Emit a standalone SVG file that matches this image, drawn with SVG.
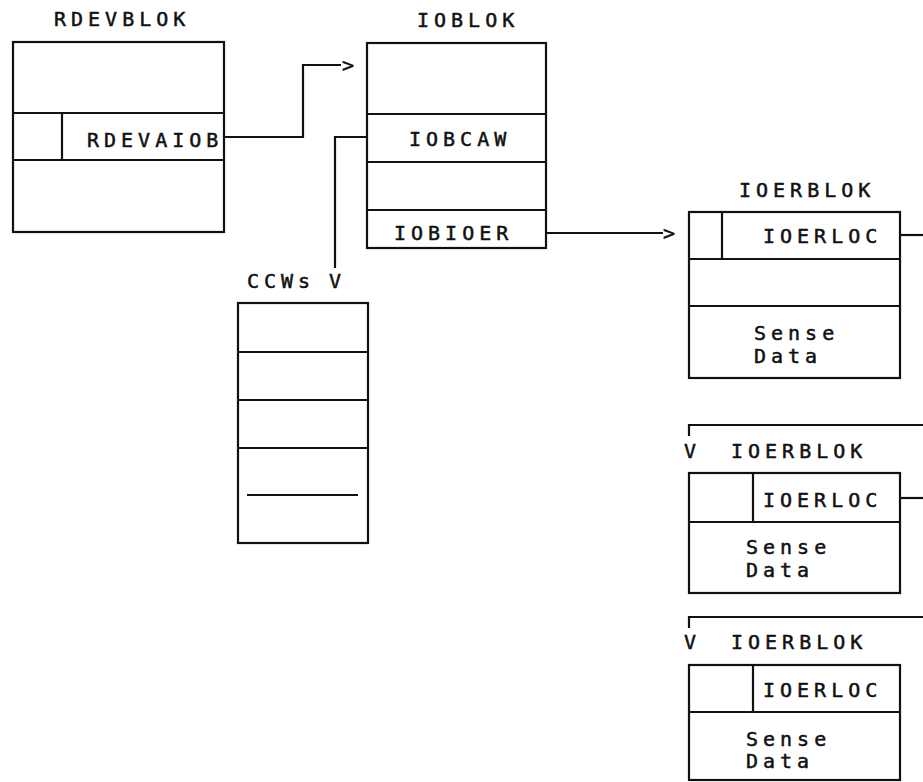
<svg xmlns="http://www.w3.org/2000/svg" width="923" height="782" viewBox="0 0 923 782">
<style>
.b{fill:none;stroke:#111;stroke-width:2.2}
.l{fill:none;stroke:#111;stroke-width:2.2}
text{font-family:"DejaVu Sans Mono","Liberation Mono",monospace;font-size:20px;letter-spacing:5px;fill:#111;stroke:#111;stroke-width:0.5px}
</style>
<rect width="923" height="782" fill="#fff"/>
<g id="rdevblok">
<text x="54" y="26">RDEVBLOK</text>
<rect class="b" x="13" y="42" width="211" height="190"/>
<line class="b" x1="13" y1="113" x2="224" y2="113"/>
<line class="b" x1="13" y1="160" x2="224" y2="160"/>
<line class="b" x1="62" y1="113" x2="62" y2="160"/>
<text x="87" y="147">RDEVAIOB</text>
</g>
<g id="ioblok">
<text x="417" y="27">IOBLOK</text>
<rect class="b" x="367" y="43" width="179" height="205"/>
<line class="b" x1="367" y1="114" x2="546" y2="114"/>
<line class="b" x1="367" y1="162" x2="546" y2="162"/>
<line class="b" x1="367" y1="210" x2="546" y2="210"/>
<text x="409" y="146">IOBCAW</text>
<text x="394" y="240">IOBIOER</text>
</g>
<g id="ccws">
<text x="247" y="288">CCWs</text>
<rect class="b" x="238" y="303" width="130" height="240"/>
<line class="b" x1="238" y1="352" x2="368" y2="352"/>
<line class="b" x1="238" y1="400" x2="368" y2="400"/>
<line class="b" x1="238" y1="448" x2="368" y2="448"/>
<line class="b" x1="247" y1="495" x2="358" y2="495"/>
</g>
<g id="ioerblok1">
<text x="739" y="197">IOERBLOK</text>
<rect class="b" x="689" y="212" width="211" height="166"/>
<line class="b" x1="689" y1="259" x2="900" y2="259"/>
<line class="b" x1="689" y1="306" x2="900" y2="306"/>
<line class="b" x1="722" y1="212" x2="722" y2="259"/>
<text x="763" y="243">IOERLOC</text>
<text x="754" y="340">Sense</text>
<text x="754" y="363">Data</text>
</g>
<g id="ioerblok2">
<text x="731" y="458">IOERBLOK</text>
<rect class="b" x="689" y="473" width="211" height="120"/>
<line class="b" x1="689" y1="522" x2="900" y2="522"/>
<line class="b" x1="753" y1="473" x2="753" y2="522"/>
<text x="763" y="507">IOERLOC</text>
<text x="746" y="554">Sense</text>
<text x="746" y="577">Data</text>
</g>
<g id="ioerblok3">
<text x="731" y="649">IOERBLOK</text>
<rect class="b" x="689" y="665" width="211" height="115"/>
<line class="b" x1="689" y1="712" x2="900" y2="712"/>
<line class="b" x1="753" y1="665" x2="753" y2="712"/>
<text x="763" y="697">IOERLOC</text>
<text x="746" y="746">Sense</text>
<text x="746" y="768">Data</text>
</g>
<g id="connectors">
<polyline class="l" points="224,137 303,137 303,65 341,65"/>
<text x="342" y="72">&gt;</text>
<polyline class="l" points="367,137 335,137 335,268"/>
<text x="329" y="288">V</text>
<polyline class="l" points="546,233 663,233"/>
<text x="663" y="240">&gt;</text>
<polyline class="l" points="900,235 923,235"/>
<polyline class="l" points="923,425 689,425 689,436"/>
<text x="684" y="458">V</text>
<polyline class="l" points="900,498 923,498"/>
<polyline class="l" points="923,617 689,617 689,628"/>
<text x="684" y="649">V</text>
</g>
</svg>
